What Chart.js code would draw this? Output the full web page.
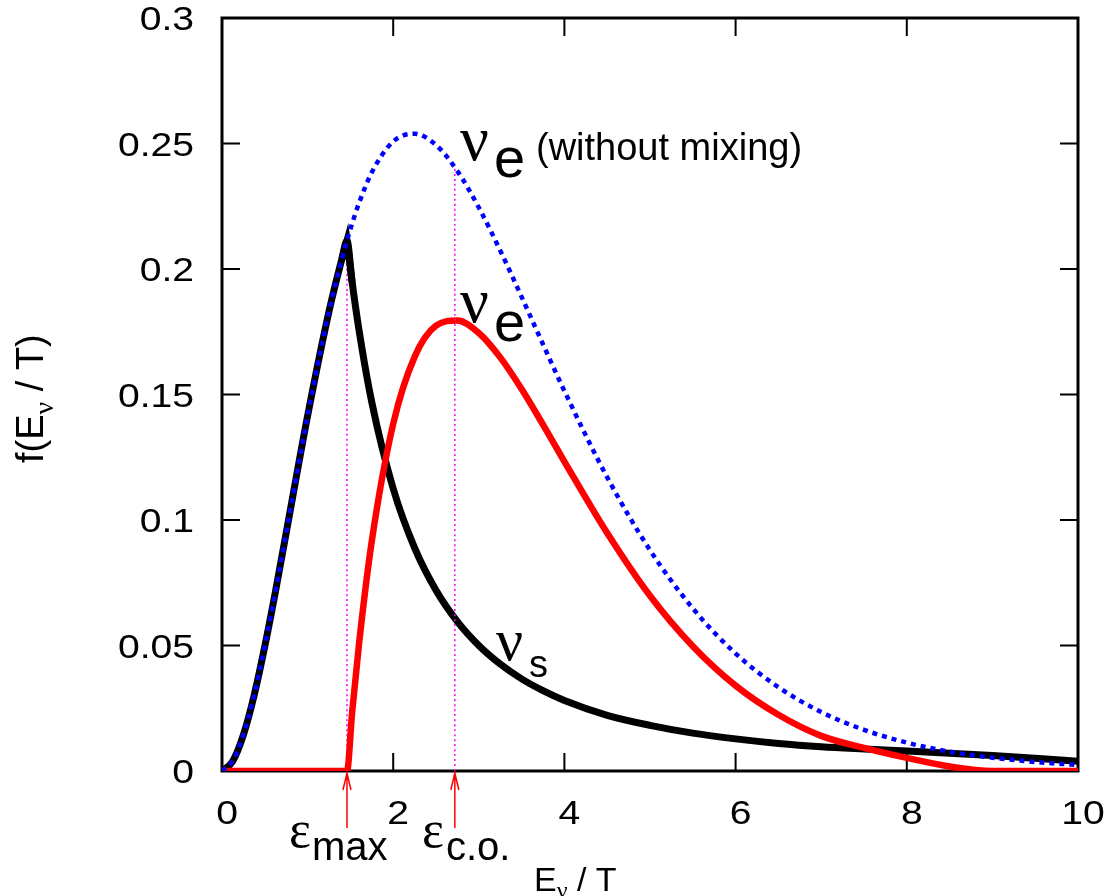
<!DOCTYPE html>
<html>
<head>
<meta charset="utf-8">
<script src="https://cdn.jsdelivr.net/npm/chart.js@4.4.1/dist/chart.umd.min.js"></script>
<style>
html,body{margin:0;padding:0;background:#fff;}
#wrap{width:1117px;height:896px;position:relative;}
canvas{display:block;}
</style>
</head>
<body>
<div id="wrap"><canvas id="c" width="1117" height="896"></canvas></div>
<script>
// ---- data ----
const energies = [0,0.125,0.25,0.375,0.5,0.625,0.75,1,1.25,1.4,1.46,1.52,1.6,1.75,2,2.25,2.5,2.75,3,3.25,3.5,3.75,4,4.5,5,5.5,6,6.5,7,7.5,8,8.5,9,9.5,10];
const nuENoMixing = [0,0.0039,0.0144,0.0301,0.0497,0.0716,0.0949,0.1415,0.1831,0.2039,0.2113,0.2181,0.2262,0.2385,0.2508,0.2539,0.2494,0.2390,0.2245,0.2074,0.1889,0.1700,0.1514,0.1170,0.0880,0.0648,0.0468,0.0334,0.0235,0.0164,0.0113,0.0077,0.0053,0.0036,0.0024];
const nuS = [0,0.0039,0.0144,0.0301,0.0497,0.0716,0.0949,0.1415,0.1831,0.2039,0.2113,0.1948,0.1758,0.1469,0.1125,0.0889,0.0720,0.0595,0.0500,0.0426,0.0367,0.0320,0.0281,0.0222,0.0182,0.0151,0.0128,0.0110,0.0097,0.0088,0.0080,0.0071,0.0062,0.0051,0.0039];
const nuE = [0,0,0,0,0,0,0,0,0,0,0,0.0233,0.0504,0.0916,0.1383,0.1650,0.1774,0.1795,0.1745,0.1648,0.1522,0.1380,0.1233,0.0948,0.0698,0.0497,0.0340,0.0224,0.0140,0.0092,0.0052,0.0018,0,0,0];
const epsMax = 1.46, epsMaxTop = 0.2113;
const epsCO = 2.72, epsCOTop = 0.2405;
const xTickValues = [0,2,4,6,8,10];
const xTickLabels = ['0','2','4','6','8','10'];
const yTickValues = [0,0.05,0.1,0.15,0.2,0.25,0.3];
const yTickLabels = ['0','0.05','0.1','0.15','0.2','0.25','0.3'];

const pts = (ys) => energies.map((e, i) => ({x: e, y: ys[i]}));
const peakIdx = energies.indexOf(epsMax);
const peakPts = pts(nuS).slice(peakIdx - 1, peakIdx + 2);

const SANS = '"Liberation Sans", Arial, sans-serif';
const SERIF = '"Liberation Serif", "DejaVu Serif", serif';
const STRETCH = 1.15;

function drawRuns(ctx, x, y, runs) {
  let cx = x;
  runs.forEach(r => {
    ctx.font = r.font;
    ctx.fillText(r.t, cx + (r.dx || 0), y + (r.dy || 0));
    cx += ctx.measureText(r.t).width + (r.dx || 0);
  });
}

function stretchedText(ctx, text, x, y, align, baseline) {
  ctx.save();
  ctx.translate(x, y);
  ctx.scale(STRETCH, 1);
  ctx.textAlign = align;
  ctx.textBaseline = baseline;
  ctx.fillText(text, 0, 0);
  ctx.restore();
}

const decor = {
  id: 'decor',
  beforeDatasetsDraw(chart) {
    const {ctx, chartArea: a, scales: {x, y}} = chart;
    ctx.save();
    ctx.strokeStyle = '#000';
    ctx.lineWidth = 2;
    ctx.beginPath();
    x.ticks.forEach(t => {
      const px = x.getPixelForValue(t.value);
      ctx.moveTo(px, a.bottom); ctx.lineTo(px, a.bottom - 18);
      ctx.moveTo(px, a.top); ctx.lineTo(px, a.top + 18);
    });
    y.ticks.forEach(t => {
      const py = y.getPixelForValue(t.value);
      ctx.moveTo(a.left, py); ctx.lineTo(a.left + 18, py);
      ctx.moveTo(a.right, py); ctx.lineTo(a.right - 18, py);
    });
    ctx.stroke();
    ctx.lineWidth = 3;
    ctx.strokeRect(a.left, a.top, a.right - a.left, a.bottom - a.top);
    // tick labels
    ctx.fillStyle = '#000';
    ctx.font = '34px ' + SANS;
    x.ticks.forEach((t, i) => {
      stretchedText(ctx, xTickLabels[i], x.getPixelForValue(t.value) + 5, a.bottom + 53, 'center', 'alphabetic');
    });
    y.ticks.forEach((t, i) => {
      stretchedText(ctx, yTickLabels[i], a.left - 28, y.getPixelForValue(t.value) + 12, 'right', 'alphabetic');
    });
    ctx.restore();
  },
  afterDatasetsDraw(chart) {
    const {ctx, chartArea: a, scales: {x}} = chart;
    ctx.save();
    // arrows under the axis
    ctx.strokeStyle = '#ff0000';
    ctx.lineWidth = 1.5;
    [epsMax, epsCO].forEach(v => {
      const px = x.getPixelForValue(v);
      ctx.beginPath();
      ctx.moveTo(px, a.bottom + 57); ctx.lineTo(px, a.bottom + 2);
      ctx.moveTo(px - 4, a.bottom + 19); ctx.lineTo(px, a.bottom + 2); ctx.lineTo(px + 4, a.bottom + 19);
      ctx.stroke();
    });
    ctx.fillStyle = '#000';
    ctx.textBaseline = 'alphabetic';
    ctx.textAlign = 'left';
    // epsilon labels
    drawRuns(ctx, 289, 847, [{t: 'ε', font: '52px ' + SERIF}]);
    drawRuns(ctx, 312, 860, [{t: 'max', font: '40px ' + SANS}]);
    drawRuns(ctx, 422, 847, [{t: 'ε', font: '52px ' + SERIF}]);
    drawRuns(ctx, 446, 860, [{t: 'c.o.', font: '40px ' + SANS}]);
    // curve labels
    drawRuns(ctx, 460, 160, [{t: 'ν', font: '64px ' + SERIF}]);
    drawRuns(ctx, 494, 177, [{t: 'e', font: '56px ' + SANS}]);
    drawRuns(ctx, 536, 160, [{t: '(without mixing)', font: '38px ' + SANS}]);
    drawRuns(ctx, 460, 322, [{t: 'ν', font: '64px ' + SERIF}]);
    drawRuns(ctx, 494, 341, [{t: 'e', font: '56px ' + SANS}]);
    drawRuns(ctx, 496, 660, [{t: 'ν', font: '60px ' + SERIF}]);
    drawRuns(ctx, 529, 677, [{t: 's', font: '38px ' + SANS}]);
    // x axis title
    drawRuns(ctx, 534, 891, [
      {t: 'E', font: '34px ' + SANS},
      {t: 'ν', font: '24px ' + SERIF, dy: 7},
      {t: ' / T', font: '34px ' + SANS}
    ]);
    // y axis title
    ctx.translate(43, 463);
    ctx.rotate(-Math.PI / 2);
    drawRuns(ctx, 0, 0, [
      {t: 'f(E', font: '38px ' + SANS},
      {t: 'ν', font: '28px ' + SERIF, dy: 10},
      {t: ' / T)', font: '38px ' + SANS}
    ]);
    ctx.restore();
  }
};

const common = {pointRadius: 0, pointHoverRadius: 0, fill: false, cubicInterpolationMode: 'monotone'};

new Chart(document.getElementById('c'), {
  type: 'line',
  data: {
    datasets: [
      Object.assign({label: 'nu_e without mixing', data: pts(nuENoMixing), borderColor: '#0000ff', borderWidth: 4.5, borderDash: [5, 5], order: 0}, common),
      Object.assign({label: 'eps c.o.', data: [{x: epsCO, y: 0}, {x: epsCO, y: epsCOTop}], borderColor: '#ff00ff', borderWidth: 1.5, borderDash: [2, 3], order: 1}, common),
      Object.assign({label: 'nu_e', data: pts(nuE), borderColor: '#ff0000', borderWidth: 6.5, order: 2}, common),
      Object.assign({label: 'nu_s', data: pts(nuS), borderColor: '#000000', borderWidth: 7, order: 3}, common),
      {label: 'nu_s peak', data: peakPts, borderColor: '#000000', borderWidth: 7, order: 3, pointRadius: 0, fill: false, tension: 0, borderJoinStyle: 'miter'},
      Object.assign({label: 'eps max', data: [{x: epsMax, y: 0}, {x: epsMax, y: epsMaxTop}], borderColor: '#ff00ff', borderWidth: 1.5, borderDash: [2, 3], order: 4}, common)
    ]
  },
  options: {
    responsive: false,
    animation: false,
    devicePixelRatio: 1,
    layout: {padding: {left: 0, top: 18, right: 39, bottom: 0}},
    plugins: {legend: {display: false}, tooltip: {enabled: false}},
    scales: {
      x: {
        type: 'linear', min: 0, max: 10,
        grid: {display: false, drawTicks: false},
        border: {display: false},
        afterBuildTicks: s => { s.ticks = xTickValues.map(v => ({value: v})); },
        afterFit: s => { s.height = 125; s.paddingLeft = 0; s.paddingRight = 0; },
        ticks: {display: false}
      },
      y: {
        type: 'linear', min: 0, max: 0.3,
        grid: {display: false, drawTicks: false},
        border: {display: false},
        afterBuildTicks: s => { s.ticks = yTickValues.map(v => ({value: v})); },
        afterFit: s => { s.width = 222; s.paddingTop = 0; s.paddingBottom = 0; },
        ticks: {display: false}
      }
    }
  },
  plugins: [decor]
});
</script>
</body>
</html>
